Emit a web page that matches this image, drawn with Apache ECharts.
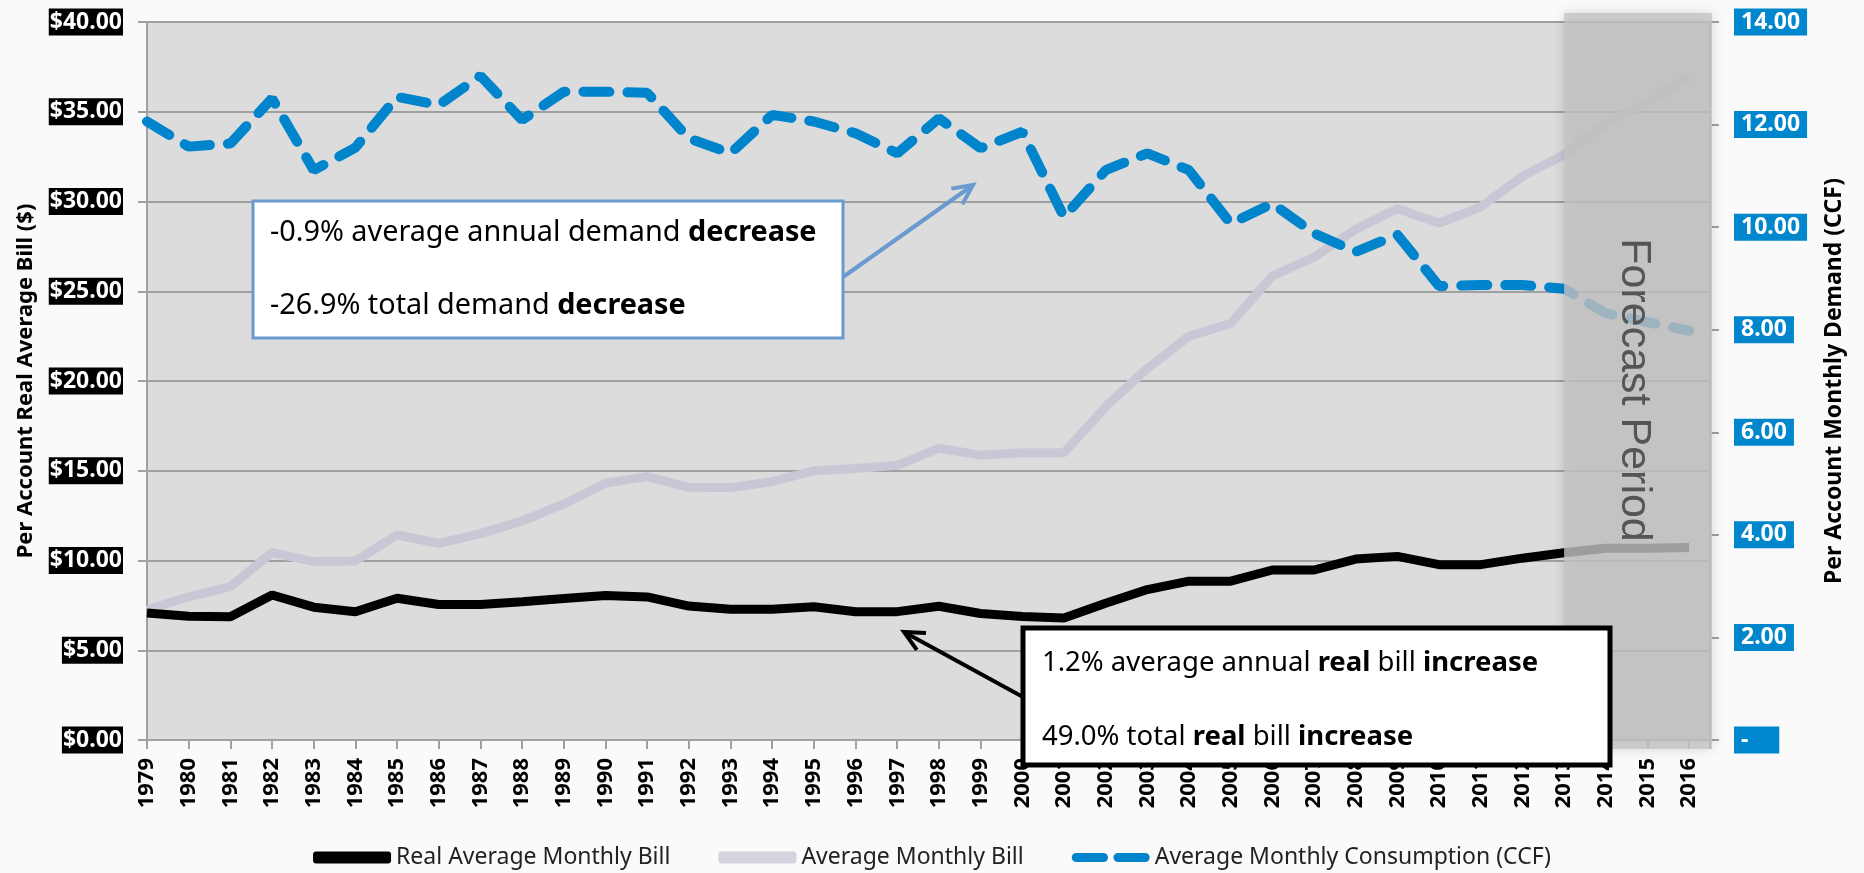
<!DOCTYPE html>
<html>
<head>
<meta charset="utf-8">
<script src="https://cdn.jsdelivr.net/npm/echarts@6/dist/echarts.min.js"></script>
<style>
html, body { margin: 0; padding: 0; background: #fafafa; }
#chartLine { width: 1864px; height: 873px; }
</style>
</head>
<body>
<div id="chartLine"></div>
<script>
// values, one per year
const years = [1979, 1980, 1981, 1982, 1983, 1984, 1985, 1986, 1987, 1988, 1989, 1990, 1991,
  1992, 1993, 1994, 1995, 1996, 1997, 1998, 1999, 2000, 2001, 2002, 2003, 2004, 2005, 2006,
  2007, 2008, 2009, 2010, 2011, 2012, 2013, 2014, 2015, 2016];
const realBill = [7.07, 6.9, 6.87, 8.08, 7.4, 7.15, 7.9, 7.55, 7.55, 7.7, 7.88, 8.05, 7.97,
  7.46, 7.28, 7.28, 7.42, 7.15, 7.15, 7.45, 7.05, 6.88, 6.8, 7.62, 8.38, 8.85, 8.85, 9.47,
  9.47, 10.08, 10.23, 9.77, 9.77, 10.13, 10.43, 10.68, 10.68, 10.72];
const avgBill = [7.24, 7.98, 8.54, 10.44, 9.94, 9.97, 11.42, 10.96, 11.5, 12.2, 13.15, 14.3, 14.67,
  14.08, 14.06, 14.39, 15.0, 15.13, 15.3, 16.25, 15.87, 16.0, 16.0, 18.57, 20.7, 22.5, 23.2, 25.85,
  26.9, 28.45, 29.6, 28.8, 29.7, 31.4, 32.6, 34.4, 35.5, 37.0];
const consumption = [12.06, 11.57, 11.63, 12.51, 11.11, 11.55, 12.54, 12.38, 12.95, 12.09, 12.64, 12.64, 12.62,
  11.73, 11.44, 12.19, 12.06, 11.83, 11.44, 12.12, 11.54, 11.86, 10.2, 11.11, 11.44, 11.11, 10.07, 10.46,
  9.88, 9.52, 9.85, 8.85, 8.87, 8.87, 8.8, 8.32, 8.15, 7.98];
const seriesNames = ['Real Average Monthly Bill', 'Average Monthly Bill', 'Average Monthly Consumption (CCF)'];
const forecastStart = 2013;

const FONT = 'Noto Sans';
const gridColor = '#a0a0a0';

const chartLine = echarts.init(document.getElementById('chartLine'));

const pairs = arr => years.map((y, i) => [y, arr[i]]);

const options = {
  backgroundColor: '#fafafa',
  animation: false,
  grid: {
    left: 147, right: 154, top: 22, bottom: 133,
    show: true, backgroundColor: '#dcdcdc', borderWidth: 0
  },
  legend: {
    data: [
      { name: seriesNames[0], icon: 'roundRect' },
      { name: seriesNames[1], icon: 'roundRect' },
      { name: seriesNames[2], icon: 'path://M5,0h30a5,5 0 0 1 0,10h-30a5,5 0 0 1 0,-10zM51,0h30a5,5 0 0 1 0,10h-30a5,5 0 0 1 0,-10z' }
    ],
    top: 841,
    left: 'center',
    itemWidth: 78,
    itemHeight: 12,
    itemGap: 48,
    textStyle: { fontFamily: FONT, fontSize: 23, color: '#222' }
  },
  xAxis: {
    type: 'value',
    min: years[0],
    max: years[years.length - 1] + 0.5,
    interval: 1,
    axisLine: { lineStyle: { color: gridColor, width: 2 } },
    axisTick: { length: 9, lineStyle: { color: gridColor, width: 2 } },
    splitLine: { show: false },
    axisLabel: {
      rotate: 90,
      margin: 18,
      color: '#000',
      fontWeight: 'bold',
      fontFamily: FONT,
      fontSize: 22,
      formatter: v => years.indexOf(v) >= 0 ? String(v) : ''
    }
  },
  yAxis: [{
    type: 'value',
    min: 0, max: 40, interval: 5,
    name: 'Per Account Real Average Bill ($)',
    nameLocation: 'middle',
    nameRotate: 90,
    nameGap: 110,
    nameTextStyle: { fontFamily: FONT, fontWeight: 'bold', fontSize: 22, color: '#000' },
    axisLine: { show: true, lineStyle: { color: gridColor, width: 2 } },
    axisTick: { show: true, length: 9, lineStyle: { color: gridColor, width: 2 } },
    splitLine: { lineStyle: { color: gridColor, width: 2 } },
    axisLabel: {
      formatter: v => '$' + v.toFixed(2),
      color: '#fff', backgroundColor: '#000',
      fontFamily: FONT, fontWeight: 'bold', fontSize: 23,
      padding: [3, 1, 1, 1], margin: 24
    }
  }, {
    type: 'value',
    min: 0, max: 14, interval: 2,
    name: 'Per Account Monthly Demand (CCF)',
    nameLocation: 'middle',
    nameRotate: 90,
    nameGap: 113,
    nameTextStyle: { fontFamily: FONT, fontWeight: 'bold', fontSize: 23, color: '#000' },
    axisLine: { show: true, lineStyle: { color: gridColor, width: 2 } },
    axisTick: { show: true, length: 9, lineStyle: { color: gridColor, width: 2 } },
    splitLine: { show: false },
    axisLabel: {
      formatter: v => v === 0 ? '-    ' : v.toFixed(2),
      color: '#fff', backgroundColor: '#0086cc',
      fontFamily: FONT, fontWeight: 'bold', fontSize: 23,
      padding: [3, 7, 1, 7], margin: 24, align: 'left'
    }
  }],
  series: [{
    name: seriesNames[0],
    type: 'line',
    z: 3,
    symbol: 'none',
    data: pairs(realBill),
    lineStyle: { color: '#000', width: 9 },
    itemStyle: { color: '#000' }
  }, {
    name: seriesNames[1],
    type: 'line',
    z: 2,
    symbol: 'none',
    data: pairs(avgBill),
    lineStyle: { color: '#cbc6d6', width: 9 },
    itemStyle: { color: '#d6d2de' }
  }, {
    name: seriesNames[2],
    type: 'line',
    z: 4,
    yAxisIndex: 1,
    symbol: 'none',
    data: pairs(consumption),
    lineStyle: { color: '#0084cb', width: 10, type: [26, 18], cap: 'round' },
    itemStyle: { color: '#0084cb' }
  }]
};

chartLine.setOption(options);

// annotations: forecast band placed from the axes, callout boxes and arrows
function arrow(x1, y1, x2, y2, color, w) {
  const a = Math.atan2(y2 - y1, x2 - x1), L = 22, s = 0.45;
  return [
    { type: 'line', z: 120, shape: { x1, y1, x2, y2 }, style: { stroke: color, lineWidth: w } },
    { type: 'polyline', z: 120,
      shape: { points: [[x2 - L * Math.cos(a - s), y2 - L * Math.sin(a - s)], [x2, y2],
                        [x2 - L * Math.cos(a + s), y2 - L * Math.sin(a + s)]] },
      style: { stroke: color, lineWidth: w, fill: null } }
  ];
}

const bx0 = chartLine.convertToPixel({ xAxisIndex: 0 }, forecastStart);
const bx1 = chartLine.convertToPixel({ xAxisIndex: 0 }, options.xAxis.max) + 2;
const by0 = chartLine.convertToPixel({ yAxisIndex: 0 }, 40) - 9;
const by1 = chartLine.convertToPixel({ yAxisIndex: 0 }, 0) + 9;

const txt = (x, y, s, size) => ({
  type: 'text', z: 130, x, y,
  style: {
    text: s, fontFamily: FONT, fontSize: size, fill: '#000', verticalAlign: 'middle',
    rich: { b: { fontFamily: FONT, fontWeight: 'bold', fontSize: size, fill: '#000' } }
  }
});

chartLine.setOption({
  graphic: [
    { type: 'rect', z: 100, shape: { x: bx0, y: by0, width: bx1 - bx0, height: by1 - by0 },
      style: { fill: 'rgba(196,196,196,0.8)', shadowBlur: 12, shadowColor: 'rgba(0,0,0,0.18)' } },
    { type: 'text', z: 101, x: (bx0 + bx1) / 2 - 4, y: 390, rotation: -Math.PI / 2,
      style: { text: 'Forecast Period', fontFamily: 'Liberation Sans', fontSize: 43, fill: '#555',
               align: 'center', verticalAlign: 'middle' } },
    { type: 'rect', z: 110, shape: { x: 253, y: 201, width: 590, height: 137 },
      style: { fill: '#fff', stroke: '#6a9ad0', lineWidth: 3 } },
    txt(270, 233, '-0.9% average annual demand {b|decrease}', 28.8),
    txt(270, 306, '-26.9% total demand {b|decrease}', 28.8),
    ...arrow(843, 277, 973, 185, '#6a9ad0', 4),
    { type: 'rect', z: 110, shape: { x: 1023, y: 628, width: 587, height: 137 },
      style: { fill: '#fff', stroke: '#000', lineWidth: 5 } },
    txt(1042, 663, '1.2% average annual {b|real} bill {b|increase}', 27.5),
    txt(1042, 737, '49.0% total {b|real} bill {b|increase}', 27.5),
    ...arrow(1023, 697, 904, 632, '#000', 4)
  ]
});
</script>
</body>
</html>
